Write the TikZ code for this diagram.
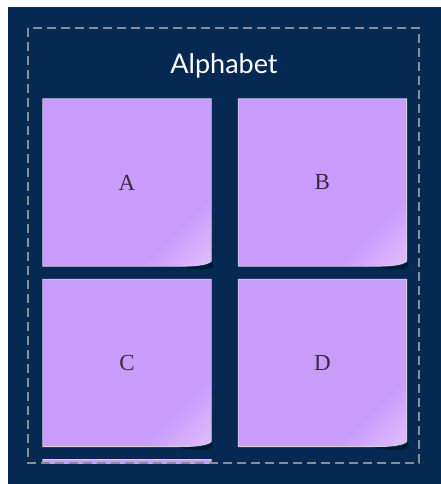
\documentclass[tikz,border=0pt]{standalone}
\usepackage{fontspec}
\setmainfont{Liberation Serif}
\newfontfamily\titlefont{Lato}
\usetikzlibrary{positioning,backgrounds}
\definecolor{abcnavy}{RGB}{5,41,82}
\definecolor{abcpurple}{RGB}{201,156,252}
\definecolor{abcpink}{RGB}{248,226,252}
\definecolor{abcdash}{RGB}{140,140,146}
\definecolor{abcedge}{RGB}{210,208,225}
\definecolor{abcink}{RGB}{58,40,68}
\pgfdeclarehorizontalshading{abccurl}{100bp}{color(0bp)=(abcpurple); color(71bp)=(abcpurple); color(100bp)=(abcpink)}
\newcommand\notebody[1]{%
  \fill[black, opacity=0.35] ([xshift=-34pt,yshift=-1pt]#1.south east) .. controls ([xshift=-14pt,yshift=-1pt]#1.south east) and ([xshift=-3pt]#1.south east) .. ([xshift=1pt,yshift=4pt]#1.south east)
    -- ([xshift=2pt,yshift=-1pt]#1.south east) .. controls ([xshift=-4pt,yshift=-4pt]#1.south east) and ([xshift=-16pt,yshift=-4pt]#1.south east) .. ([xshift=-34pt,yshift=-1pt]#1.south east) -- cycle;
  \shade[shading=abccurl, shading angle=-45, draw=abcedge, line width=0.8pt] (#1.north west) -- (#1.north east) -- ([yshift=5pt]#1.south east)
    .. controls ([xshift=-4pt,yshift=1pt]#1.south east) and ([xshift=-18pt]#1.south east) .. ([xshift=-32pt]#1.south east) -- (#1.south west) -- cycle;}
\tikzset{
  stickynote/.style={rectangle, draw=none, minimum width=168pt, minimum height=167pt, inner sep=0pt,
                     font=\fontsize{23}{25}\selectfont, text=abcink},
  abcframe/.style={draw=abcdash, line width=2.2pt, dash pattern=on 9pt off 5pt},
}

\begin{document}
\begin{tikzpicture}[x=1pt, y=-1pt, node distance=13pt and 27pt]
  \useasboundingbox (0,0) rectangle (441,484);
  \node[text=white, font=\titlefont\fontsize{27}{30}\selectfont](title) at (224,66){Alphabet};
  \node[stickynote](nA) at (127,182.5){A};
  \node[stickynote, right=of nA](nB){B};
  \node[stickynote, below=of nA](nC){C};
  \node[stickynote, right=of nC](nD){D};
  \node[stickynote, below=of nC](nE){};

  \begin{scope}[on background layer]
    \fill[white] (0,0) rectangle (441,484);
    \fill[abcnavy] (8,7) rectangle (441,484);
    \clip (28,28) rectangle (419,463);
    \foreach \n in {nA,nB,nC,nD,nE}{\notebody{\n}}
  \end{scope}
  \draw[abcframe] (28,28) rectangle (419,463);
\end{tikzpicture}
\end{document}
